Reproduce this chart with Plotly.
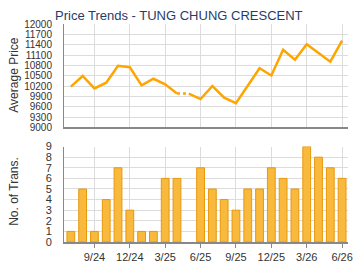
import plotly.graph_objects as go

months = ["7/24","8/24","9/24","10/24","11/24","12/24","1/25","2/25","3/25","4/25","5/25","6/25",
          "7/25","8/25","9/25","10/25","11/25","12/25","1/26","2/26","3/26","4/26","5/26","6/26"]
avg_price = [10180, 10490, 10130, 10295, 10785, 10745, 10220, 10410, 10250, 9980, 9980, 9820,
             10200, 9860, 9700, 10210, 10715, 10505, 11250, 10965, 11415, 11160, 10905, 11520]
transactions = [1, 5, 1, 4, 7, 3, 1, 1, 6, 6, 0, 7, 5, 4, 3, 5, 5, 7, 6, 5, 9, 8, 7, 6]
tick_labels = ["9/24", "12/24", "3/25", "6/25", "9/25", "12/25", "3/26", "6/26"]
price_ticks = list(range(9000, 12001, 300))
trans_ticks = list(range(0, 10))

idx = list(range(len(months)))
tick_idx = [months.index(t) for t in tick_labels]
gap = [i for i, t in enumerate(transactions) if t == 0]

sx, sy = [], []
for i in idx:
    if i in gap:
        sx.append(None); sy.append(None)
    sx.append(i); sy.append(avg_price[i])
dx, dy = [], []
for g in gap:
    dx += [g - 1, g, None]; dy += [avg_price[g - 1], avg_price[g], None]

orange = "#FFA500"
fig = go.Figure()
fig.add_trace(go.Scatter(x=sx, y=sy, mode="lines", line=dict(color=orange, width=2.5),
                         connectgaps=False, xaxis="x", yaxis="y", hoverinfo="skip"))
fig.add_trace(go.Scatter(x=dx, y=dy, mode="lines", line=dict(color=orange, width=2.5, dash="dot"),
                         connectgaps=False, xaxis="x", yaxis="y", hoverinfo="skip"))
fig.add_trace(go.Bar(x=idx, y=transactions, width=0.66,
                     marker=dict(color="#F8B93C",
                                 line=dict(color="#E8980C", width=[0 if t == 0 else 1 for t in transactions])),
                     xaxis="x2", yaxis="y2"))

grid = "#DCDCDC"
axis_common = dict(range=[-0.58, 23.5], tickvals=tick_idx, showgrid=True, gridcolor=grid,
                   gridwidth=1, showline=True, linecolor="#888888", linewidth=2, zeroline=False)
fig.update_layout(
    width=360, height=270,
    margin=dict(l=64, r=7, t=24, b=26),
    paper_bgcolor="white", plot_bgcolor="white",
    showlegend=False,
    font=dict(family="Arial, Liberation Sans, sans-serif", size=11, color="#333333"),
    title=dict(text="Price Trends - TUNG CHUNG CRESCENT", x=55/360, xref="container", xanchor="left",
               y=1 - 15/270, yref="container", yanchor="middle",
               font=dict(family="Arial, Liberation Sans, sans-serif", size=13, color="#1F3D6B")),
    xaxis=dict(domain=[0, 1], anchor="y", showticklabels=False, ticks="", **axis_common),
    yaxis=dict(domain=[0.526, 1.0], anchor="x", range=[9000, 12000], tickvals=price_ticks,
               tickformat="d", tickfont=dict(size=10),
               showgrid=True, gridcolor=grid, showline=True, linecolor="#888888", linewidth=1,
               zeroline=False, ticks="", ticklabelstandoff=9),
    xaxis2=dict(domain=[0, 1], anchor="y2", ticktext=tick_labels, ticks="outside", ticklen=4,
                tickcolor="#888888", **axis_common),
    yaxis2=dict(domain=[0, 0.4377], anchor="x2", range=[0, 9], tickvals=trans_ticks,
                showgrid=True, gridcolor=grid, showline=True, linecolor="#888888", linewidth=1,
                zeroline=False, ticks="", ticklabelstandoff=9),
    annotations=[
        dict(text="Average Price", xref="paper", yref="paper", x=0, xshift=-50, y=0.763,
             textangle=-90, showarrow=False, xanchor="center", yanchor="middle",
             font=dict(size=12, color="#333333")),
        dict(text="No. of Trans.", xref="paper", yref="paper", x=0, xshift=-50, y=0.23,
             textangle=-90, showarrow=False, xanchor="center", yanchor="middle",
             font=dict(size=12, color="#333333")),
    ],
)
fig.write_html("out.html")
